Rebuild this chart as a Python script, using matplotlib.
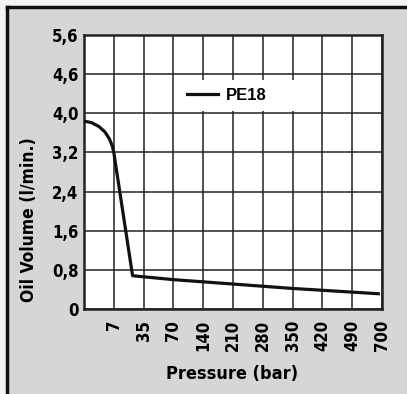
import matplotlib.pyplot as plt
from matplotlib.patches import Rectangle
from matplotlib.lines import Line2D
import matplotlib.transforms as mtransforms
import numpy as np

# pressure categories on the x axis (equally spaced)
druck = ['7', '35', '70', '140', '210', '280', '350', '420', '490', '700']
# y axis labels as printed on the sheet
y_ticks = [0, 0.8, 1.6, 2.4, 3.2, 4.0, 4.8, 5.6]
y_labels = ['0', '0,8', '1,6', '2,4', '3,2', '4,0', '4,6', '5,6']

# PE18 curve, x given in category positions
pe18_x = [0, 0.25, 0.5, 0.7, 0.85, 0.95, 1.0, 1.63, 3.0, 5.0, 7.0, 9.93]
pe18_y = [3.84, 3.81, 3.73, 3.62, 3.48, 3.33, 3.2, 0.68, 0.60, 0.51, 0.42, 0.31]

font = dict(family='DejaVu Sans', fontstretch='condensed', fontweight='bold')

fig = plt.figure(figsize=(4.07, 3.94), dpi=100)
fig.patch.set_facecolor('#f4f4f4')
# grey panel with a dark frame on the left and top
x0, y0 = 6.5 / 407, 1 - 6.5 / 394
fig.patches.append(Rectangle((x0, 0), 1 - x0, y0, transform=fig.transFigure,
                             facecolor='#d6d6d6', edgecolor='none', zorder=-10))
fig.lines.append(Line2D([x0, x0], [0, y0], transform=fig.transFigure,
                        color='#111111', linewidth=2.5, solid_capstyle='projecting'))
fig.lines.append(Line2D([x0, 1], [y0, y0], transform=fig.transFigure,
                        color='#111111', linewidth=2.5, solid_capstyle='projecting'))

ax = fig.add_axes([84 / 407, 1 - 309 / 394, 298 / 407, 274 / 394])
ax.set_facecolor('white')
ax.plot(pe18_x, pe18_y, color='#111111', linewidth=2.3, solid_joinstyle='round',
        solid_capstyle='butt', zorder=3)

ax.set_xlim(0, 10)
ax.set_ylim(0, 5.6)
ax.set_xticks(np.arange(1, 11))
ax.set_xticklabels(druck, rotation=90, fontsize=12, va='top', **font)
# nudge the rotated pressure labels a little to the right
shift = mtransforms.ScaledTranslation(3 / 100, 0, fig.dpi_scale_trans)
for lbl in ax.get_xticklabels():
    lbl.set_transform(lbl.get_transform() + shift)
ax.set_yticks(y_ticks)
ax.set_yticklabels(y_labels, fontsize=12, **font)
ax.tick_params(axis='x', length=0, pad=8)
ax.tick_params(axis='y', length=0, pad=4)
ax.grid(True, color='#222222', linewidth=1.1)
for s in ax.spines.values():
    s.set_linewidth(1.8)
    s.set_color('#222222')

ax.set_xlabel('Pressure (bar)', fontsize=13, **font)
ax.xaxis.set_label_coords(0.497, -0.205)
ax.set_ylabel('Oil Volume (l/min.)', fontsize=12.5, **font)
ax.yaxis.set_label_coords(-0.155, 0.325)

# white patch behind the legend, over the grid
ax.add_patch(Rectangle((0.302, 0.723), 0.456, 0.113, transform=ax.transAxes,
                       facecolor='white', edgecolor='none', zorder=2.5))
leg = ax.legend([Line2D([], [], color='#111111', linewidth=2.3)], ['PE18'],
                loc='center left', bbox_to_anchor=(0.346, 0.781), handlelength=1.85,
                handletextpad=0.48, frameon=False, borderpad=0, borderaxespad=0,
                prop=dict(family='Liberation Sans', weight='bold', size=12))
leg.set_zorder(4)

fig.savefig('out.png', dpi=100, facecolor=fig.get_facecolor())
